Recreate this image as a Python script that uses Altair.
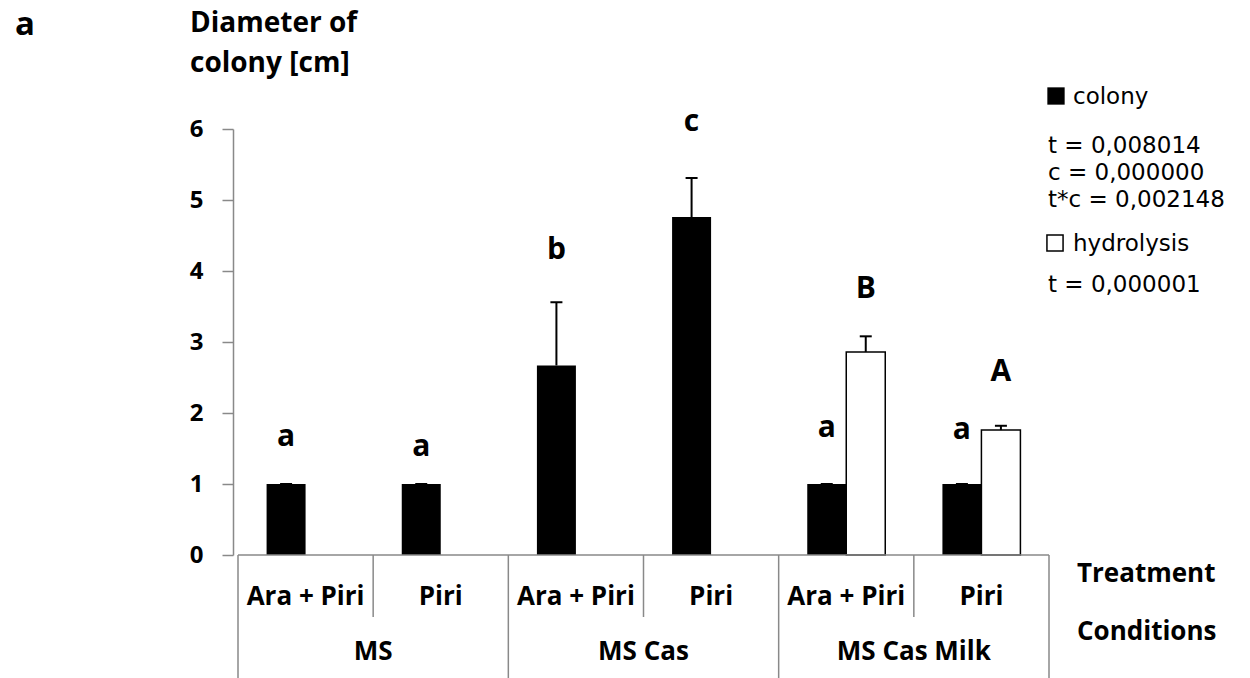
import altair as alt
import pandas as pd

conditions = ["MS", "MS", "MS Cas", "MS Cas", "MS Cas Milk", "MS Cas Milk"]
treatments = ["Ara + Piri", "Piri", "Ara + Piri", "Piri", "Ara + Piri", "Piri"]
colony_mean = [1.0, 1.0, 2.67, 4.76, 1.0, 1.0]
colony_err = [0.0, 0.0, 0.89, 0.55, 0.0, 0.0]
hydro_mean = [None, None, None, None, 2.86, 1.76]
hydro_err = [None, None, None, None, 0.22, 0.06]
colony_letters = ["a", "a", "b", "c", "a", "a"]
colony_letter_y = [1.66, 1.52, 4.30, 6.10, 1.79, 1.76]
hydro_letters = [None, None, None, None, "B", "A"]
hydro_letter_y = [None, None, None, None, 3.75, 2.58]
group_names = ["MS", "MS Cas", "MS Cas Milk"]
y_ticks = [0, 1, 2, 3, 4, 5, 6]

legend_stats_colony = ["t = 0,008014", "c = 0,000000", "t*c = 0,002148"]
legend_stats_hydro = ["t = 0,000001"]

FONT = "Open Sans"
LFONT = "DejaVu Sans"
GRAY = "#898989"

rows = []
for i in range(len(treatments)):
    rows.append({
        "pos": i + 0.5,
        "cond": conditions[i],
        "treat": treatments[i],
        "colony": colony_mean[i],
        "colony_top": colony_mean[i] + colony_err[i],
        "cl": colony_letters[i],
        "cly": colony_letter_y[i],
        "hydro": hydro_mean[i],
        "hydro_top": None if hydro_mean[i] is None else hydro_mean[i] + hydro_err[i],
        "hl": hydro_letters[i],
        "hly": hydro_letter_y[i],
    })
df = pd.DataFrame(rows)
hdf = df.dropna(subset=["hydro"])

groups = pd.DataFrame({"name": group_names, "center": [1.0, 3.0, 5.0]})
inner_sep = pd.DataFrame({"x": [1.0, 3.0, 5.0]})
outer_sep = pd.DataFrame({"x": [0.0, 2.0, 4.0, 6.0]})

xs = alt.Scale(domain=[0, 6], nice=False, zero=False)
ys = alt.Scale(domain=[0, 6], nice=False)

YAXIS = alt.Axis(
    values=y_ticks, title=None, grid=False,
    tickSize=11, tickColor=GRAY, domainColor=GRAY, tickWidth=1.5, domainWidth=1.5,
    labelFont=FONT, labelFontWeight="bold", labelFontSize=24, labelColor="black",
    labelPadding=19)

X = lambda f: alt.X(f, type="quantitative", scale=xs, axis=None)
Y = lambda f: alt.Y(f, type="quantitative", scale=ys, axis=YAXIS)

base = alt.Chart(df)

colony_bars = base.mark_bar(color="black", width=39, xOffset=-19.5).encode(
    x=X("pos"), y=Y("colony"))
colony_err_rule = base.mark_rule(color="black", strokeWidth=2, xOffset=-19.5).encode(
    x=X("pos"), y=Y("colony"), y2="colony_top:Q")
colony_cap = base.mark_rule(color="black", strokeWidth=2, xOffset=-25.5, x2Offset=-13.5).encode(
    x=X("pos"), x2="pos:Q", y=Y("colony_top"))

hb = alt.Chart(hdf)
hydro_bars = hb.mark_bar(fill="white", stroke="black", strokeWidth=1.5, width=39, xOffset=19.5).encode(
    x=X("pos"), y=Y("hydro"))
hydro_err_rule = hb.mark_rule(color="black", strokeWidth=2, xOffset=19.5).encode(
    x=X("pos"), y=Y("hydro"), y2="hydro_top:Q")
hydro_cap = hb.mark_rule(color="black", strokeWidth=2, xOffset=13.5, x2Offset=25.5).encode(
    x=X("pos"), x2="pos:Q", y=Y("hydro_top"))

letters = base.mark_text(font=FONT, fontWeight="bold", fontSize=30, xOffset=-19.5,
                         baseline="middle", color="black").encode(
    x=X("pos"), y=Y("cly"), text="cl:N")
hletters = hb.mark_text(font=FONT, fontWeight="bold", fontSize=30, xOffset=19.5,
                        baseline="middle", color="black").encode(
    x=X("pos"), y=Y("hly"), text="hl:N")

# x axis line
xaxis_line = alt.Chart(pd.DataFrame({"a": [0.0], "b": [6.0], "y": [0.0]})).mark_rule(
    color=GRAY, strokeWidth=1.5).encode(x=X("a"), x2="b:Q", y=Y("y"))

inner = alt.Chart(inner_sep).mark_rule(color=GRAY, strokeWidth=1.5).encode(
    x=X("x"), y=alt.value(426), y2=alt.value(488))
outer = alt.Chart(outer_sep).mark_rule(color=GRAY, strokeWidth=1.5).encode(
    x=X("x"), y=alt.value(426), y2=alt.value(560))

treat_labels = base.mark_text(font=FONT, fontWeight="bold", fontSize=26, baseline="alphabetic",
                              color="black").encode(
    x=X("pos"), y=alt.value(476), text="treat:N")
group_labels = alt.Chart(groups).mark_text(font=FONT, fontWeight="bold", fontSize=26,
                                           baseline="alphabetic", color="black").encode(
    x=X("center"), y=alt.value(531), text="name:N")

def label(txt, x, y, size, weight="normal", font=FONT):
    return alt.Chart(pd.DataFrame({"k": [0]})).mark_text(
        font=font, fontSize=size, fontWeight=weight, align="left", baseline="alphabetic",
        color="black", text=txt).encode(x=alt.value(x), y=alt.value(y))

annots = [
    label("a", -218, -94, 33, "bold"),
    label("Diameter of", -43, -97, 28, "bold"),
    label("colony [cm]", -43, -57, 28, "bold"),
    label("Treatment", 844, 453, 26, "bold"),
    label("Conditions", 844, 511, 26, "bold"),
    label("colony", 840, -25, 23, font=LFONT),
    label("hydrolysis", 840, 122, 23, font=LFONT),
]
for k, s in enumerate(legend_stats_colony):
    annots.append(label(s, 815, 24 + 27 * k, 23, font=LFONT))
for k, s in enumerate(legend_stats_hydro):
    annots.append(label(s, 815, 163 + 27 * k, 23, font=LFONT))

sq_black = alt.Chart(pd.DataFrame({"k": ["colony"]})).mark_square(
    size=300, filled=True, color="black", opacity=1).encode(x=alt.value(823), y=alt.value(-33))
sq_white = alt.Chart(pd.DataFrame({"k": ["hydrolysis"]})).mark_square(
    size=260, filled=True, fill="white", stroke="black", strokeWidth=1.5, opacity=1).encode(
    x=alt.value(822), y=alt.value(114))

chart = alt.layer(
    colony_bars, hydro_bars, colony_err_rule, colony_cap, hydro_err_rule, hydro_cap,
    letters, hletters, xaxis_line, inner, outer, treat_labels, group_labels,
    sq_black, sq_white, *annots
).properties(
    width=821, height=426,
    autosize=alt.AutoSizeParams(type="none"),
    padding={"left": 233, "top": 129, "right": 196, "bottom": 123},
).configure(background="white", view=alt.ViewConfig(stroke=None))

chart.save("out.html", embed_options={"renderer": "svg", "actions": False})
